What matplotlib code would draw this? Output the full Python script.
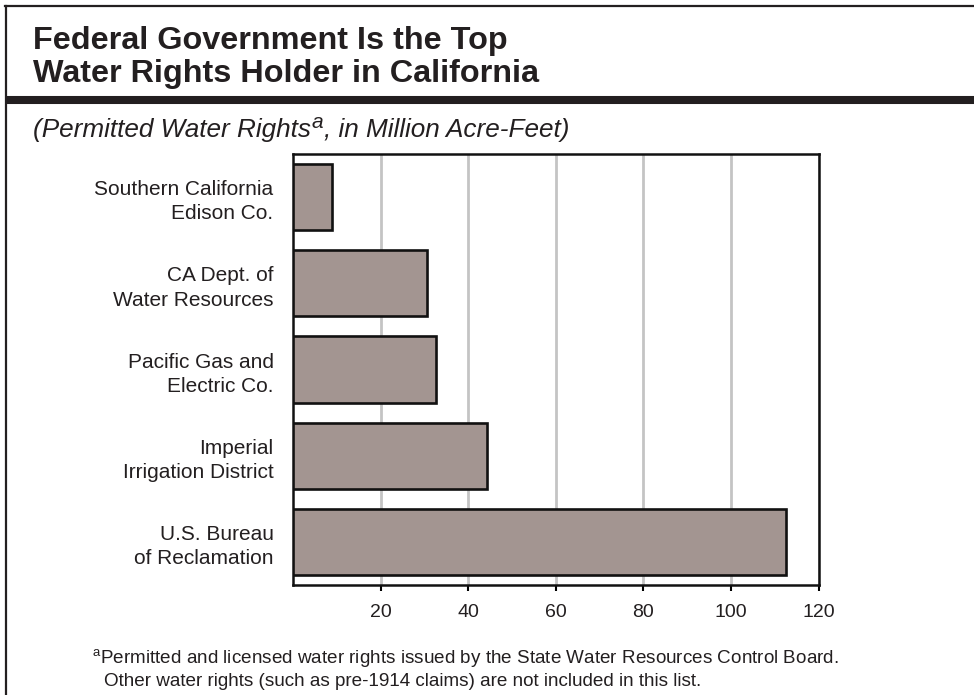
import matplotlib
matplotlib.use("Agg")
import matplotlib.pyplot as plt
from matplotlib.lines import Line2D

plt.rcParams['font.family'] = ['Liberation Sans', 'DejaVu Sans']
plt.rcParams['mathtext.fontset'] = 'custom'
plt.rcParams['mathtext.rm'] = 'Liberation Sans'
plt.rcParams['mathtext.it'] = 'Liberation Sans:italic'

# ---- data ----
categories = ["Southern California\nEdison Co.",
              "CA Dept. of\nWater Resources",
              "Pacific Gas and\nElectric Co.",
              "Imperial\nIrrigation District",
              "U.S. Bureau\nof Reclamation"]
values = [8.8, 30.7, 32.6, 44.2, 112.6]
xticks = [20, 40, 60, 80, 100, 120]
xtick_labels = ["20", "40", "60", "80", "100", "120"]

title_lines = ["Federal Government Is the Top", "Water Rights Holder in California"]
subtitle_parts = ["(Permitted Water Rights", "a", ", in Million Acre-Feet)"]
foot1 = r"$^{\mathrm{a}}$Permitted and licensed water rights issued by the State Water Resources Control Board."
foot2 = "Other water rights (such as pre-1914 claims) are not included in this list."

W, H = 974, 695
fig = plt.figure(figsize=(W / 100, H / 100), dpi=100)
fig.patch.set_facecolor("white")
renderer = fig.canvas.get_renderer()

def fx(x):
    return x / W

def fy(y):
    return 1 - y / H

# frame lines
fig.add_artist(Line2D([fx(5.5), fx(5.5)], [fy(5.5), fy(H + 2)], color="#231f20", lw=1.6))
fig.add_artist(Line2D([fx(4.7), fx(W + 2)], [fy(5.5), fy(5.5)], color="#231f20", lw=1.6))
fig.add_artist(Line2D([fx(4.7), fx(W + 2)], [fy(100), fy(100)], color="#231f20", lw=5.8,
                      solid_capstyle="butt"))

# title
fig.text(fx(33), fy(49), title_lines[0], fontsize=23.3, fontweight="bold", color="#231f20",
         ha="left", va="baseline")
fig.text(fx(33), fy(82), title_lines[1], fontsize=23.3, fontweight="bold", color="#231f20",
         ha="left", va="baseline")

# subtitle with a larger raised superscript
x0 = 33
t1 = fig.text(fx(x0), fy(137), subtitle_parts[0], fontsize=18.8, style="italic",
              color="#231f20", ha="left", va="baseline")
w1 = t1.get_window_extent(renderer).width
t2 = fig.text(fx(x0 + w1 + 1), fy(128), subtitle_parts[1], fontsize=15, style="italic",
              color="#231f20", ha="left", va="baseline")
w2 = t2.get_window_extent(renderer).width
fig.text(fx(x0 + w1 + w2 + 1), fy(137), subtitle_parts[2], fontsize=18.8, style="italic",
         color="#231f20", ha="left", va="baseline")

# axes
ax = fig.add_axes([fx(293), fy(585), fx(818.7) - fx(293), fy(154) - fy(585)])
y = list(range(len(categories)))
ax.barh(y, values, height=0.77, color="#a39591", edgecolor="#111111", linewidth=1.9, zorder=3)
ax.set_xlim(0, 120)
ax.set_ylim(len(categories) - 0.5, -0.5)
ax.set_yticks(y)
ax.set_yticklabels(categories, fontsize=15, color="#231f20", linespacing=1.35)
ax.tick_params(axis="y", length=0, pad=14)
ax.set_xticks(xticks)
ax.set_xticklabels(xtick_labels, fontsize=14, color="#231f20")
ax.tick_params(axis="x", length=4, width=1.5, pad=10, direction="out")
for lab in ax.get_yticklabels():
    lab.set_horizontalalignment("right")
ax.grid(axis="x", color="#c4c4c4", linewidth=2.0, zorder=0)
ax.set_axisbelow(True)
for s in ax.spines.values():
    s.set_linewidth(1.8)
    s.set_color("#111111")

# footnote
fig.text(fx(92), fy(663), foot1, fontsize=13.6, color="#231f20", ha="left", va="baseline")
fig.text(fx(104), fy(686), foot2, fontsize=13.6, color="#231f20", ha="left", va="baseline")

fig.savefig("out.png", dpi=100, facecolor="white")
